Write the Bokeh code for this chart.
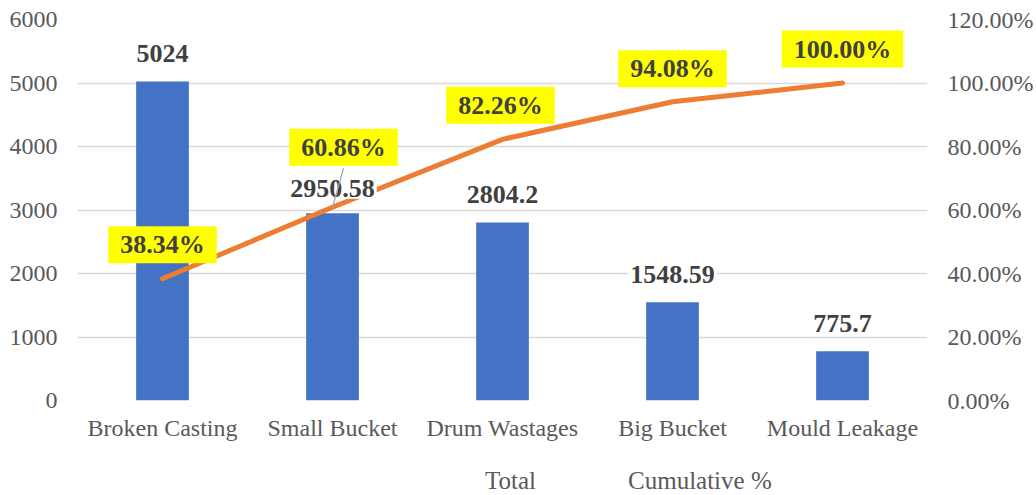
from bokeh.plotting import figure
from bokeh.layouts import column
from bokeh.models import (ColumnDataSource, Range1d, LinearAxis, FixedTicker,
                          NumeralTickFormatter, Legend, LegendItem)
from bokeh.core.properties import value
from bokeh.transform import dodge
from bokeh.embed import file_html
from bokeh.resources import INLINE

# ---- data ----
categories = ["Broken Casting", "Small Bucket", "Drum Wastages", "Big Bucket", "Mould Leakage"]
totals = [5024, 2950.58, 2804.2, 1548.59, 775.7]
cumulative_pct = [38.34, 60.86, 82.26, 94.08, 100.00]
left_ticks = [0, 1000, 2000, 3000, 4000, 5000, 6000]
right_ticks = [0, 0.2, 0.4, 0.6, 0.8, 1.0, 1.2]

# ---- style ----
FONT = "Liberation Serif"
BLUE = "#4472C4"
ORANGE = "#ED7D31"
GRID = "#D9D9D9"
TICK_COLOR = "#595959"
LABEL_COLOR = "#404040"
W, H = 1036, 450
LEG_H = 45
FRAME_H = 381
bar_label_rise = [28, 25, 28, 28, 28]
pct_label_rise = [34, 60, 34, 33, 34]
pct_label_shift = [0, 11, -2, 0, 0]

p = figure(x_range=categories, y_range=Range1d(0, 6000), width=W, height=H,
           output_backend="svg", toolbar_location=None,
           min_border_left=77, min_border_right=W - 927, min_border_top=19,
           min_border_bottom=H - 400)
p.extra_y_ranges = {"pct": Range1d(0, 1.2)}
p.outline_line_color = None
p.x_range.range_padding = 0

# axes
ly = p.yaxis[0]
ly.ticker = FixedTicker(ticks=left_ticks)
ry = LinearAxis(y_range_name="pct", ticker=FixedTicker(ticks=right_ticks),
                formatter=NumeralTickFormatter(format="0.00%"))
p.add_layout(ry, "right")
for ax in (ly, ry, p.xaxis[0]):
    ax.axis_line_color = None
    ax.major_tick_line_color = None
    ax.minor_tick_line_color = None
    ax.major_tick_out = 0
    ax.minor_tick_out = 0
    ax.major_label_text_font = FONT
    ax.major_label_text_font_size = "24px"
    ax.major_label_text_color = TICK_COLOR
ly.major_label_standoff = 20
ry.major_label_standoff = 20
p.xaxis[0].major_label_standoff = 14

p.xgrid.grid_line_color = None
p.ygrid.grid_line_color = GRID
p.ygrid.grid_line_width = 1.3
p.ygrid.ticker = FixedTicker(ticks=left_ticks)

src = ColumnDataSource(dict(
    x=categories, total=totals, pct=[c / 100 for c in cumulative_pct],
    total_label=[f"{v:g}" for v in totals],
    pct_label=[f"{c:.2f}%" for c in cumulative_pct],
    bar_dy=[-d for d in bar_label_rise],
    pct_dy=[-d for d in pct_label_rise],
    pct_dx=pct_label_shift,
))

bars = p.vbar(x="x", top="total", width=0.31, source=src, fill_color=BLUE, line_color=None)
line = p.line(x="x", y="pct", source=src, y_range_name="pct", line_color=ORANGE,
              line_width=5, line_cap="round", line_join="round")

p.text(x="x", y="total", text="total_label", source=src, y_offset="bar_dy",
       text_align="center", text_baseline="middle", text_font=value(FONT),
       text_font_style="bold", text_font_size="26px", text_color=LABEL_COLOR,
       background_fill_color="white", padding=2)

# leader line for the displaced 60.86% label
i = 1
lead = ColumnDataSource(dict(x=[categories[i]], y0=[cumulative_pct[i] / 100 + (pct_label_rise[i] - 21) * 1.2 / FRAME_H],
                             y1=[cumulative_pct[i] / 100]))
p.segment(x0=dodge("x", pct_label_shift[i] / 170, range=p.x_range), y0="y0", x1="x", y1="y1",
          source=lead, y_range_name="pct", line_color="#A6A6A6", line_width=1.2)

p.text(x="x", y="pct", text="pct_label", source=src, y_range_name="pct",
       x_offset="pct_dx", y_offset="pct_dy",
       text_align="center", text_baseline="middle", text_font=value(FONT),
       text_font_style="bold", text_font_size="26px", text_color=LABEL_COLOR,
       background_fill_color="#FFFF00", padding=dict(x=12, y=4))

# ---- legend strip (separate figure below the chart) ----
q = figure(width=W, height=LEG_H, x_range=Range1d(0, 1), y_range=Range1d(0, 1),
           output_backend="svg", toolbar_location=None,
           x_axis_location=None, y_axis_location=None,
           min_border_left=0, min_border_right=0, min_border_top=0, min_border_bottom=0)
q.outline_line_color = None
q.xgrid.grid_line_color = None
q.ygrid.grid_line_color = None
leg_bar = q.vbar(x=[], top=[], width=0.1, fill_color=BLUE, line_color=None)
leg_line = q.line(x=[], y=[], line_color=ORANGE, line_width=5, line_cap="round")

legend = Legend(items=[LegendItem(label="Total", renderers=[leg_bar]),
                       LegendItem(label="Cumulative %", renderers=[leg_line])],
                orientation="horizontal", location=(343, 0),
                glyph_width=60, glyph_height=15, spacing=27, label_standoff=5,
                padding=0, margin=0, border_line_color=None, background_fill_alpha=0,
                label_text_font=FONT, label_text_font_size="25px", label_text_color=TICK_COLOR)
q.add_layout(legend, "center")

page = column(p, q, spacing=0)
open("out.html", "w").write(file_html(page, INLINE))
